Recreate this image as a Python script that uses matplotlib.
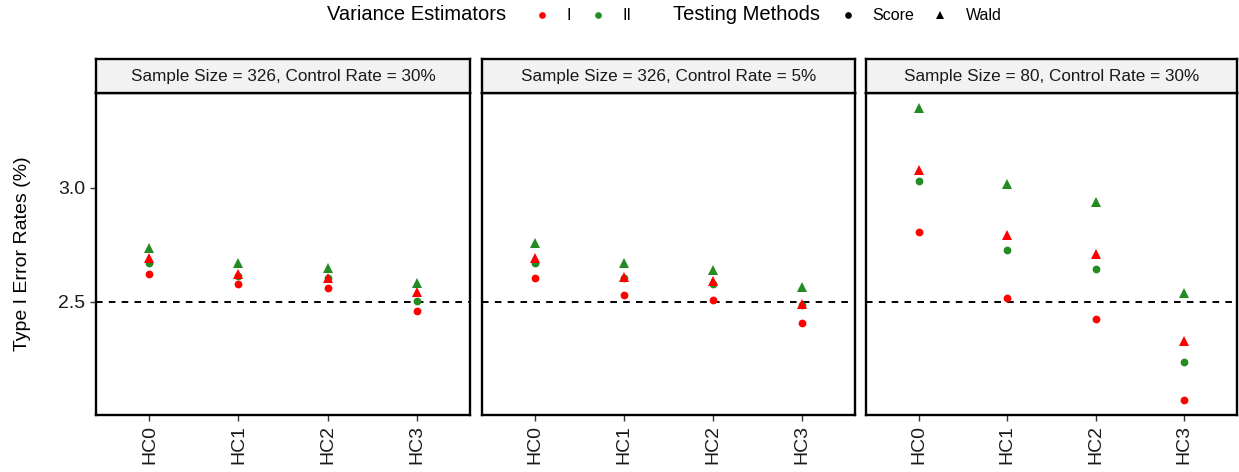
import matplotlib
matplotlib.use("Agg")
import matplotlib.pyplot as plt
from matplotlib.lines import Line2D

plt.rcParams['font.family'] = ['Liberation Sans', 'DejaVu Sans']

methods = ["HC0", "HC1", "HC2", "HC3"]
panels = ["Sample Size = 326, Control Rate = 30%",
          "Sample Size = 326, Control Rate = 5%",
          "Sample Size = 80, Control Rate = 30%"]

# values per panel: [HC0, HC1, HC2, HC3]
p1_I_score = [2.623, 2.576, 2.560, 2.461]
p1_II_score = [2.668, 2.615, 2.602, 2.504]
p1_I_wald = [2.692, 2.621, 2.605, 2.541]
p1_II_wald = [2.738, 2.671, 2.648, 2.583]

p2_I_score = [2.604, 2.529, 2.507, 2.408]
p2_II_score = [2.668, 2.605, 2.576, 2.484]
p2_I_wald = [2.693, 2.608, 2.591, 2.490]
p2_II_wald = [2.756, 2.668, 2.640, 2.563]

p3_I_score = [2.806, 2.515, 2.425, 2.067]
p3_II_score = [3.029, 2.727, 2.643, 2.237]
p3_I_wald = [3.079, 2.793, 2.709, 2.329]
p3_II_wald = [3.352, 3.016, 2.936, 2.538]

reference = 2.5

data = [
    (p1_I_score, p1_II_score, p1_I_wald, p1_II_wald),
    (p2_I_score, p2_II_score, p2_I_wald, p2_II_wald),
    (p3_I_score, p3_II_score, p3_I_wald, p3_II_wald),
]

RED = "#FF0000"
GREEN = "#228B22"

W, H = 1239, 472
fig = plt.figure(figsize=(W / 100, H / 100), dpi=100)

def fx(px):
    return px / W

def fy(py):
    return 1 - py / H

panel_x = [(96, 470), (482, 855), (866, 1237)]
top_px, bot_px = 93, 415
strip_top = 59

ymin, ymax = 2.003, 3.416
xpos = list(range(1, 5))

for i, ((x0, x1), title, (iscore, iiscore, iwald, iiwald)) in enumerate(zip(panel_x, panels, data)):
    ax = fig.add_axes([fx(x0), fy(bot_px), fx(x1 - x0), (bot_px - top_px) / H])
    ax.axhline(reference, color="black", linestyle=(0, (3.4, 3.2)), linewidth=1.4, zorder=1)
    ax.plot(xpos, iscore, linestyle="none", marker="o", color=RED, markersize=5.6, markeredgewidth=0, zorder=3)
    ax.plot(xpos, iiscore, linestyle="none", marker="o", color=GREEN, markersize=5.6, markeredgewidth=0, zorder=3)
    ax.plot(xpos, iwald, linestyle="none", marker="^", color=RED, markersize=7.2, markeredgewidth=0, zorder=3)
    ax.plot(xpos, iiwald, linestyle="none", marker="^", color=GREEN, markersize=7.2, markeredgewidth=0, zorder=3)
    ax.set_xlim(0.4, 4.6)
    ax.set_ylim(ymin, ymax)
    ax.set_xticks(xpos)
    ax.set_xticklabels(methods, rotation=90, fontsize=14, color="#1a1a1a")
    ax.set_yticks([2.5, 3.0])
    if i == 0:
        ax.set_yticklabels(["2.5", "3.0"], fontsize=14, color="#1a1a1a")
        ax.set_ylabel("Type I Error Rates (%)", fontsize=14, labelpad=20)
        ax.tick_params(axis="y", length=4, width=1, color="#333333")
    else:
        ax.tick_params(axis="y", left=False, labelleft=False)
    ax.tick_params(axis="x", length=4, width=1, color="#333333", pad=3)
    for sp in ax.spines.values():
        sp.set_linewidth(1.7)
        sp.set_color("black")
    # strip
    sax = fig.add_axes([fx(x0), fy(top_px), fx(x1 - x0), (top_px - strip_top) / H])
    sax.set_facecolor("#F2F2F2")
    sax.set_xticks([])
    sax.set_yticks([])
    for sp in sax.spines.values():
        sp.set_linewidth(1.7)
        sp.set_color("black")
    sax.text(0.5, 0.5, title, ha="center", va="center", fontsize=12.3, color="#1a1a1a",
             transform=sax.transAxes)

# legend at top
ly = fy(15)
fig.text(fx(327), ly, "Variance Estimators", fontsize=14.5, ha="left", va="center")
fig.add_artist(Line2D([fx(542)], [ly], marker="o", color=RED, markersize=4.8,
                      markeredgewidth=0, transform=fig.transFigure))
fig.text(fx(566), ly, "I", fontsize=11.5, ha="left", va="center")
fig.add_artist(Line2D([fx(598)], [ly], marker="o", color=GREEN, markersize=4.8,
                      markeredgewidth=0, transform=fig.transFigure))
fig.text(fx(622), ly, "II", fontsize=11.5, ha="left", va="center")
fig.text(fx(673), ly, "Testing Methods", fontsize=14.5, ha="left", va="center")
fig.add_artist(Line2D([fx(848)], [ly], marker="o", color="black", markersize=4.8,
                      markeredgewidth=0, transform=fig.transFigure))
fig.text(fx(872), ly, "Score", fontsize=11.5, ha="left", va="center")
fig.add_artist(Line2D([fx(940)], [ly], marker="^", color="black", markersize=6,
                      markeredgewidth=0, transform=fig.transFigure))
fig.text(fx(966), ly, "Wald", fontsize=11.5, ha="left", va="center")

fig.savefig("out.png", dpi=100)
